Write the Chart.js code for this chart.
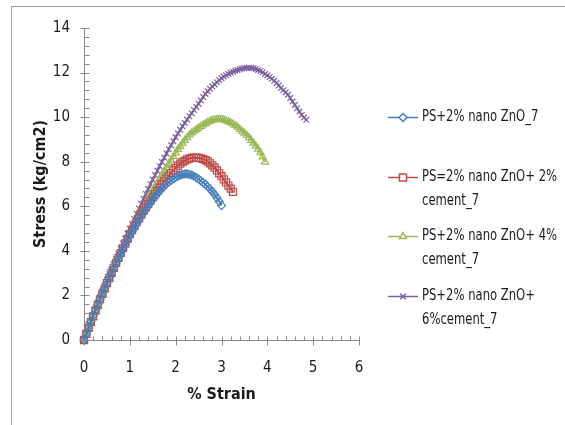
<!DOCTYPE html>
<html>
<head>
<meta charset="utf-8">
<script src="https://cdn.jsdelivr.net/npm/chart.js@4.4.0/dist/chart.umd.min.js"></script>
<style>
  html, body { margin: 0; padding: 0; background: #fff; }
</style>
</head>
<body>
<canvas id="myChart" width="565" height="425"></canvas>
<script>
// % strain readings (shared by all four runs, each run stops earlier or later)
const strain = [
  0, 0.05, 0.1, 0.15, 0.2, 0.25, 0.3, 0.35, 0.4, 0.45, 0.5, 0.55, 0.6, 0.65, 0.7, 0.75, 0.8, 0.85, 0.9, 0.95,
  1, 1.05, 1.1, 1.15, 1.2, 1.25, 1.3, 1.35, 1.4, 1.45, 1.5, 1.55, 1.6, 1.65, 1.7, 1.75, 1.8, 1.85, 1.9, 1.95,
  2, 2.05, 2.1, 2.15, 2.2, 2.25, 2.3, 2.35, 2.4, 2.45, 2.5, 2.55, 2.6, 2.65, 2.7, 2.75, 2.8, 2.85, 2.9, 2.95,
  3, 3.05, 3.1, 3.15, 3.2, 3.25, 3.3, 3.35, 3.4, 3.45, 3.5, 3.55, 3.6, 3.65, 3.7, 3.75, 3.8, 3.85, 3.9, 3.95,
  4, 4.05, 4.1, 4.15, 4.2, 4.25, 4.3, 4.35, 4.4, 4.45, 4.5, 4.55, 4.6, 4.65, 4.7, 4.75, 4.8, 4.85
];

// stress (kg/cm2)
const stressZnO = [
  0, 0.28, 0.55, 0.82, 1.08, 1.34, 1.59, 1.84, 2.08, 2.32, 2.55, 2.78, 3.00, 3.22, 3.44, 3.65, 3.86, 4.07, 4.28, 4.49,
  4.70, 4.88, 5.05, 5.22, 5.39, 5.56, 5.72, 5.87, 6.02, 6.16, 6.30, 6.43, 6.56, 6.68, 6.80, 6.90, 7.00, 7.08, 7.16, 7.23,
  7.30, 7.35, 7.40, 7.43, 7.45, 7.45, 7.43, 7.40, 7.35, 7.29, 7.22, 7.14, 7.06, 6.98, 6.88, 6.78, 6.66, 6.53, 6.38, 6.21,
  6.03
];
const stressCement2 = [
  0, 0.27, 0.54, 0.80, 1.06, 1.32, 1.57, 1.82, 2.07, 2.31, 2.55, 2.78, 3.01, 3.24, 3.46, 3.68, 3.90, 4.12, 4.33, 4.54,
  4.75, 4.93, 5.11, 5.29, 5.46, 5.63, 5.79, 5.95, 6.10, 6.25, 6.40, 6.55, 6.70, 6.84, 6.98, 7.11, 7.24, 7.37, 7.49, 7.61,
  7.72, 7.82, 7.91, 7.99, 8.05, 8.10, 8.14, 8.17, 8.18, 8.18, 8.17, 8.15, 8.12, 8.07, 8.01, 7.93, 7.84, 7.73, 7.61, 7.48,
  7.35, 7.21, 7.07, 6.93, 6.79, 6.65
];
const stressCement4 = [
  0, 0.25, 0.51, 0.77, 1.03, 1.29, 1.54, 1.79, 2.03, 2.27, 2.50, 2.74, 2.97, 3.20, 3.43, 3.65, 3.87, 4.10, 4.32, 4.54,
  4.75, 4.96, 5.17, 5.37, 5.57, 5.77, 5.96, 6.15, 6.34, 6.52, 6.70, 6.88, 7.06, 7.23, 7.40, 7.57, 7.74, 7.91, 8.07, 8.23,
  8.40, 8.55, 8.69, 8.83, 8.96, 9.08, 9.20, 9.29, 9.37, 9.44, 9.51, 9.58, 9.65, 9.71, 9.77, 9.82, 9.86, 9.89, 9.90, 9.91,
  9.90, 9.88, 9.84, 9.80, 9.75, 9.70, 9.63, 9.55, 9.46, 9.37, 9.28, 9.19, 9.08, 8.96, 8.83, 8.70, 8.56, 8.41, 8.22, 7.98
];
const stressCement6 = [
  0, 0.29, 0.57, 0.85, 1.12, 1.39, 1.66, 1.92, 2.18, 2.44, 2.70, 2.94, 3.17, 3.40, 3.63, 3.86, 4.09, 4.32, 4.55, 4.78,
  5.00, 5.22, 5.44, 5.67, 5.89, 6.11, 6.33, 6.55, 6.77, 6.99, 7.20, 7.40, 7.60, 7.80, 7.99, 8.18, 8.37, 8.56, 8.74, 8.92,
  9.10, 9.27, 9.43, 9.59, 9.74, 9.89, 10.04, 10.18, 10.32, 10.46, 10.60, 10.75, 10.90, 11.04, 11.16, 11.27, 11.37, 11.47, 11.57, 11.66,
  11.75, 11.82, 11.88, 11.94, 11.99, 12.04, 12.08, 12.12, 12.15, 12.18, 12.20, 12.21, 12.22, 12.21, 12.19, 12.16, 12.12, 12.07, 12.01, 11.94,
  11.87, 11.80, 11.72, 11.63, 11.53, 11.42, 11.31, 11.21, 11.11, 11.00, 10.86, 10.70, 10.55, 10.40, 10.25, 10.10, 9.98, 9.88
];

const seriesNames = [
  ['PS+2% nano ZnO_7'],
  ['PS=2% nano ZnO+ 2%', 'cement_7'],
  ['PS+2% nano ZnO+ 4%', 'cement_7'],
  ['PS+2% nano ZnO+', '6%cement_7']
];
const seriesColors = ['#4a7ebb', '#be4b48', '#98b954', '#7d60a0'];
const seriesMarkers = ['rectRot', 'rect', 'triangle', 'crossRot'];
const xTicks = [0, 1, 2, 3, 4, 5, 6];
const yTicks = [0, 2, 4, 6, 8, 10, 12, 14];

const FONT = "'DejaVu Sans Condensed', 'Liberation Sans', sans-serif";
const axisGrey = '#8a8a8a';

const toPoints = (ys) => ys.map((v, i) => ({ x: strain[i], y: v }));
const allStress = [stressZnO, stressCement2, stressCement4, stressCement6];

const datasets = allStress.map((ys, i) => ({
  label: seriesNames[i].join(' '),
  data: toPoints(ys),
  showLine: true,
  borderColor: seriesColors[i],
  borderWidth: 2,
  pointStyle: seriesMarkers[i],
  pointRadius: seriesMarkers[i] === 'rect' ? 5 : 4,
  pointBorderWidth: 1.2,
  pointBorderColor: seriesColors[i],
  pointBackgroundColor: 'rgba(255,255,255,0)',
  clip: false
}));

// grey frame round the chart area (left and top edges visible)
const frame = {
  id: 'frame',
  beforeDraw(chart) {
    const { ctx } = chart;
    ctx.save();
    ctx.fillStyle = '#fff';
    ctx.fillRect(0, 0, chart.width, chart.height);
    ctx.strokeStyle = '#a0a0a0';
    ctx.lineWidth = 1;
    ctx.strokeRect(11.5, 6.5, chart.width + 20, chart.height + 20);
    ctx.restore();
  }
};

// excel style major / minor tick marks
const axisTicks = {
  id: 'axisTicks',
  beforeDatasetsDraw(chart) {
    const { ctx, scales: { x, y } } = chart;
    const ax = Math.round(x.getPixelForValue(0)) + 0.5;
    const ay = Math.round(y.getPixelForValue(0)) + 0.5;
    ctx.save();
    ctx.strokeStyle = axisGrey;
    ctx.lineWidth = 1;
    ctx.beginPath();
    for (let k = 0; k <= 30; k++) {
      const px = Math.round(x.getPixelForValue(k * 0.2)) + 0.5;
      if (k % 5 === 0) { ctx.moveTo(px, ay - 4); ctx.lineTo(px, ay + 5); }
      else { ctx.moveTo(px, ay - 4); ctx.lineTo(px, ay); }
    }
    for (let k = 0; k <= 35; k++) {
      const py = Math.round(y.getPixelForValue(k * 0.4)) + 0.5;
      if (k % 5 === 0) { ctx.moveTo(ax - 4, py); ctx.lineTo(ax + 5, py); }
      else { ctx.moveTo(ax, py); ctx.lineTo(ax + 5, py); }
    }
    ctx.stroke();
    ctx.restore();
  }
};

// legend on the right, labels wrapped like the original
const sideLegend = {
  id: 'sideLegend',
  afterDraw(chart) {
    const { ctx, chartArea } = chart;
    const x0 = chartArea.right + 29;
    ctx.save();
    chart.data.datasets.forEach((ds, i) => {
      const yy = Math.round(chartArea.top + 89 + i * 59.5) + 0.5;
      ctx.strokeStyle = ds.borderColor;
      ctx.lineWidth = 1.5;
      ctx.beginPath();
      ctx.moveTo(x0, yy);
      ctx.lineTo(x0 + 30, yy);
      ctx.stroke();
      ctx.fillStyle = '#fff';
      Chart.helpers.drawPoint(ctx, {
        pointStyle: ds.pointStyle,
        radius: ds.pointStyle === 'rect' ? 5 : 4,
        borderWidth: 1
      }, x0 + 15, yy);
      // narrow text, like the Calibri of the original
      ctx.save();
      ctx.translate(x0 + 34, yy);
      ctx.scale(0.86, 1);
      ctx.font = '15px ' + FONT;
      ctx.textBaseline = 'middle';
      ctx.textAlign = 'left';
      ctx.fillStyle = '#1a1a1a';
      seriesNames[i].forEach((line, j) => {
        ctx.fillText(line, 0, j * 24);
      });
      ctx.restore();
    });
    ctx.restore();
  }
};

const ctx = document.getElementById('myChart').getContext('2d');
new Chart(ctx, {
  type: 'scatter',
  data: { datasets },
  options: {
    responsive: false,
    animation: false,
    devicePixelRatio: 1,
    layout: { padding: { left: 0, right: 206, top: 28, bottom: 0 } },
    plugins: {
      legend: { display: false },
      tooltip: { enabled: false }
    },
    scales: {
      x: {
        type: 'linear',
        min: 0,
        max: 6,
        afterBuildTicks: (s) => { s.ticks = xTicks.map(v => ({ value: v })); },
        afterFit: (s) => { s.height = 85; },
        grid: { display: false, drawTicks: false },
        border: { display: true, color: axisGrey, width: 1 },
        ticks: { padding: 19, color: '#1a1a1a', font: { family: FONT, size: 15 } },
        title: {
          display: true,
          text: '% Strain',
          color: '#1a1a1a',
          font: { family: FONT, size: 16, weight: 'bold' },
          padding: { top: 0, bottom: 21 }
        }
      },
      y: {
        type: 'linear',
        min: 0,
        max: 14,
        afterBuildTicks: (s) => { s.ticks = yTicks.map(v => ({ value: v })); },
        afterFit: (s) => { s.width = 84; },
        grid: { display: false, drawTicks: false },
        border: { display: true, color: axisGrey, width: 1 },
        ticks: { padding: 14, color: '#1a1a1a', font: { family: FONT, size: 15 } },
        title: {
          display: true,
          text: 'Stress (kg/cm2)',
          color: '#1a1a1a',
          font: { family: FONT, size: 16, weight: 'bold' },
          padding: { top: 31, bottom: 0 }
        }
      }
    }
  },
  plugins: [frame, axisTicks, sideLegend]
});
</script>
</body>
</html>
